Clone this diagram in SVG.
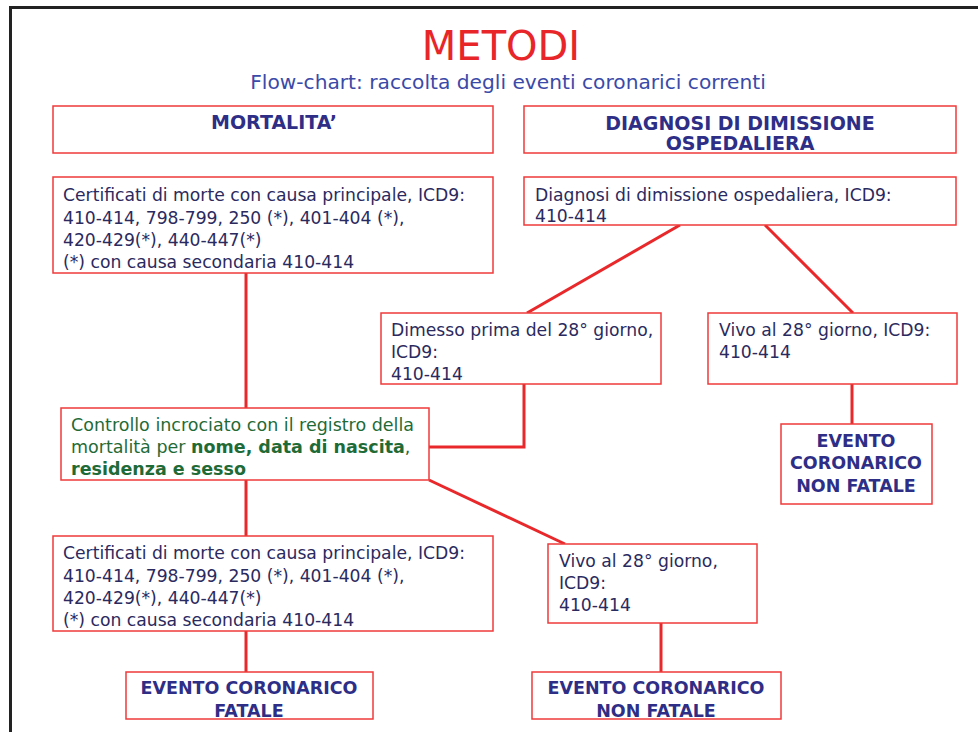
<svg xmlns="http://www.w3.org/2000/svg" width="978" height="732" viewBox="0 0 978 732">
<style>
.box{fill:#fff;stroke:#ef3a3a;stroke-width:1.5}
.conn{stroke:#e8282a;stroke-width:3;fill:none}
text{font-family:"DejaVu Sans","Liberation Sans",sans-serif}
.t{font-size:17.2px;fill:#2b2a5e}
.h{font-size:19px;fill:#2e2e86;font-weight:bold;text-anchor:middle}
.e{font-size:17.5px;fill:#2e2e86;font-weight:bold;text-anchor:middle}
.g{font-size:17.5px;fill:#1f6b38}
</style>
<rect x="0" y="0" width="978" height="732" fill="#fff"/>
<path d="M10.5 732 V7.5 H978" fill="none" stroke="#222" stroke-width="3"/>
<text x="501" y="60" text-anchor="middle" style="font-size:40px;fill:#e8262a">METODI</text>
<text x="508" y="89" text-anchor="middle" style="font-size:20.2px;fill:#3a4aa8">Flow-chart: raccolta degli eventi coronarici correnti</text>
<g id="connectors">
<line class="conn" x1="246" y1="273" x2="246" y2="408"/>
<line class="conn" x1="246" y1="480" x2="246" y2="536"/>
<line class="conn" x1="246" y1="631" x2="246" y2="672"/>
<line class="conn" x1="680" y1="225" x2="527" y2="313"/>
<line class="conn" x1="765" y1="225" x2="853" y2="313"/>
<polyline class="conn" points="524,384 524,447 429,447"/>
<line class="conn" x1="852" y1="384" x2="852" y2="424"/>
<line class="conn" x1="429" y1="480" x2="565" y2="544"/>
<line class="conn" x1="661" y1="623" x2="661" y2="672"/>
</g>
<g id="mortalita">
<rect class="box" x="53" y="106" width="440" height="47"/>
<text class="h" x="274" y="129">MORTALITA’</text>
</g>
<g id="diagnosi-header">
<rect class="box" x="524" y="106" width="432" height="47"/>
<text class="h" x="740" y="130">DIAGNOSI DI DIMISSIONE</text>
<text class="h" x="740" y="150">OSPEDALIERA</text>
</g>
<g id="certificati1">
<rect class="box" x="53" y="177" width="440" height="96"/>
<text class="t" x="63" y="201">Certificati di morte con causa principale, ICD9:</text>
<text class="t" x="63" y="224">410-414, 798-799, 250 (*), 401-404 (*),</text>
<text class="t" x="63" y="246">420-429(*), 440-447(*)</text>
<text class="t" x="63" y="268">(*) con causa secondaria 410-414</text>
</g>
<g id="diagnosi">
<rect class="box" x="524" y="177" width="432" height="48"/>
<text class="t" x="535" y="201">Diagnosi di dimissione ospedaliera, ICD9:</text>
<text class="t" x="535" y="222">410-414</text>
</g>
<g id="dimesso">
<rect class="box" x="381" y="313" width="280" height="71"/>
<text class="t" x="391" y="336">Dimesso prima del 28° giorno,</text>
<text class="t" x="391" y="358">ICD9:</text>
<text class="t" x="391" y="380">410-414</text>
</g>
<g id="vivo1">
<rect class="box" x="708" y="313" width="249" height="71"/>
<text class="t" x="719" y="336">Vivo al 28° giorno, ICD9:</text>
<text class="t" x="719" y="358">410-414</text>
</g>
<g id="controllo">
<rect class="box" x="61" y="408" width="368" height="72"/>
<text class="g" x="71" y="431">Controllo incrociato con il registro della</text>
<text class="g" x="71" y="453">mortalità per <tspan font-weight="bold">nome, data di nascita</tspan>,</text>
<text class="g" x="71" y="475" font-weight="bold">residenza e sesso</text>
</g>
<g id="evento-nf1">
<rect class="box" x="781" y="424" width="151" height="80"/>
<text class="e" x="856" y="447">EVENTO</text>
<text class="e" x="856" y="469">CORONARICO</text>
<text class="e" x="856" y="492">NON FATALE</text>
</g>
<g id="certificati2">
<rect class="box" x="53" y="536" width="440" height="95"/>
<text class="t" x="63" y="559">Certificati di morte con causa principale, ICD9:</text>
<text class="t" x="63" y="582">410-414, 798-799, 250 (*), 401-404 (*),</text>
<text class="t" x="63" y="604">420-429(*), 440-447(*)</text>
<text class="t" x="63" y="626">(*) con causa secondaria 410-414</text>
</g>
<g id="vivo2">
<rect class="box" x="548" y="544" width="209" height="79"/>
<text class="t" x="559" y="567">Vivo al 28° giorno,</text>
<text class="t" x="559" y="589">ICD9:</text>
<text class="t" x="559" y="611">410-414</text>
</g>
<g id="evento-fatale">
<rect class="box" x="126" y="672" width="247" height="47"/>
<text class="e" x="249" y="694">EVENTO CORONARICO</text>
<text class="e" x="249" y="717">FATALE</text>
</g>
<g id="evento-nf2">
<rect class="box" x="532" y="672" width="249" height="47"/>
<text class="e" x="656" y="694">EVENTO CORONARICO</text>
<text class="e" x="656" y="717">NON FATALE</text>
</g>
</svg>
